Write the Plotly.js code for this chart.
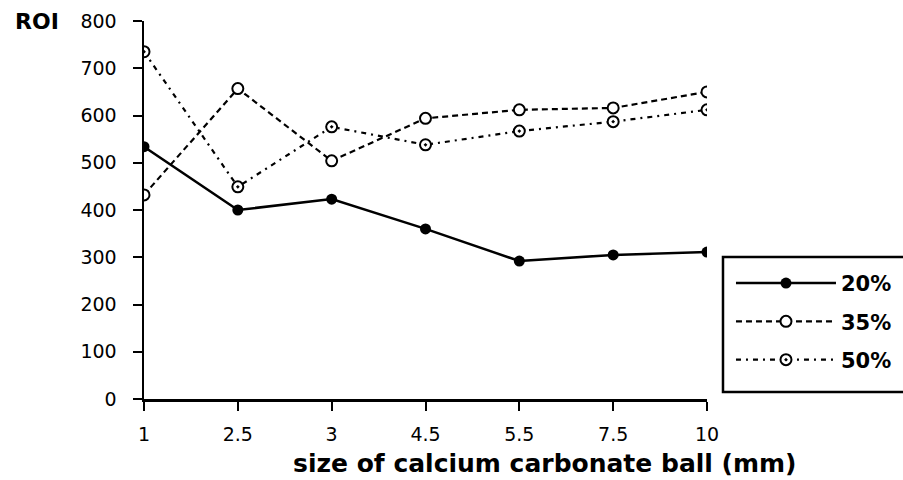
<!DOCTYPE html>
<html>
<head>
<meta charset="utf-8">
<script src="https://cdn.plot.ly/plotly-3.0.1.min.js"></script>
<style>html,body{margin:0;padding:0;background:#fff;}#chart{width:903px;height:480px;}</style>
</head>
<body>
<div id="chart"></div>
<script>
var categories = ["1", "2.5", "3", "4.5", "5.5", "7.5", "10"];
var series20 = [534, 400, 423, 360, 292, 305, 311];
var series35 = [432, 657, 504, 594, 612, 616, 650];
var series50 = [735, 449, 576, 538, 567, 587, 612];
var seriesNames = ["20%", "35%", "50%"];
var yTicks = [0, 100, 200, 300, 400, 500, 600, 700, 800];

var FONT = "DejaVu Sans, Liberation Sans, Arial, sans-serif";

var traces = [
  {
    x: categories, y: series20, name: seriesNames[0], type: "scatter", mode: "lines+markers",
    line: {color: "#000", width: 2.5},
    marker: {symbol: "circle", size: 11, color: "#000"},
    legendgroup: "a"
  },
  {
    x: categories, y: series35, name: seriesNames[1], type: "scatter", mode: "lines+markers",
    line: {color: "#000", width: 2.2, dash: "6px,4px"},
    marker: {symbol: "circle", size: 11, color: "#fff", line: {color: "#000", width: 2}},
    legendgroup: "b"
  },
  {
    x: categories, y: series50, name: seriesNames[2], type: "scatter", mode: "lines+markers",
    line: {color: "#000", width: 2.2, dash: "5px,5px,2px,5px"},
    marker: {symbol: "circle-dot", size: 11, color: "#fff", line: {color: "#000", width: 2}},
    legendgroup: "c"
  }
];

var layout = {
  width: 903, height: 480,
  margin: {l: 144, r: 196, t: 21, b: 81, pad: 0, autoexpand: false},
  paper_bgcolor: "#fff", plot_bgcolor: "#fff",
  showlegend: true,
  font: {family: FONT, color: "#000", size: 19},
  xaxis: {
    type: "category", range: [0, 6],
    showline: true, linecolor: "#000", linewidth: 2.5,
    ticks: "outside", ticklen: 9, tickwidth: 2, tickcolor: "#000",
    showgrid: false, zeroline: false,
    tickfont: {family: FONT, size: 19, color: "#000"},
    ticklabelstandoff: 8
  },
  yaxis: {
    range: [0, 800], tickvals: yTicks, ticktext: yTicks.map(String),
    showline: true, linecolor: "#000", linewidth: 2.5,
    ticks: "outside", ticklen: 9, tickwidth: 2, tickcolor: "#000",
    showgrid: false, zeroline: false,
    tickfont: {family: FONT, size: 19, color: "#000"},
    ticklabelstandoff: 12
  },
  legend: {
    x: 1.0426, xanchor: "left", y: 0.36, yanchor: "top",
    bgcolor: "rgba(0,0,0,0)", borderwidth: 0,
    font: {family: FONT, size: 21, color: "#000", weight: "bold"},
    itemwidth: 100,
    tracegroupgap: 8
  },
  shapes: [
    {type: "rect", xref: "paper", yref: "paper", x0: 1.0284, x1: 1.4, y0: 0.0185, y1: 0.3757,
     line: {color: "#000", width: 2.5}, fillcolor: "rgba(0,0,0,0)"}
  ],
  annotations: [
    {text: "ROI", xref: "paper", yref: "paper", x: -0.2327, y: 1.0, xanchor: "left", yanchor: "middle",
     showarrow: false, font: {family: FONT, size: 22, color: "#000", weight: "bold"}},
    {text: "size of calcium carbonate ball (mm)", xref: "paper", yref: "paper", x: 0.712, y: -0.17,
     xanchor: "center", yanchor: "middle", showarrow: false,
     font: {family: FONT, size: 25, color: "#000", weight: "bold"}}
  ]
};

Plotly.newPlot("chart", traces, layout, {displayModeBar: false, staticPlot: true});
</script>
</body>
</html>
